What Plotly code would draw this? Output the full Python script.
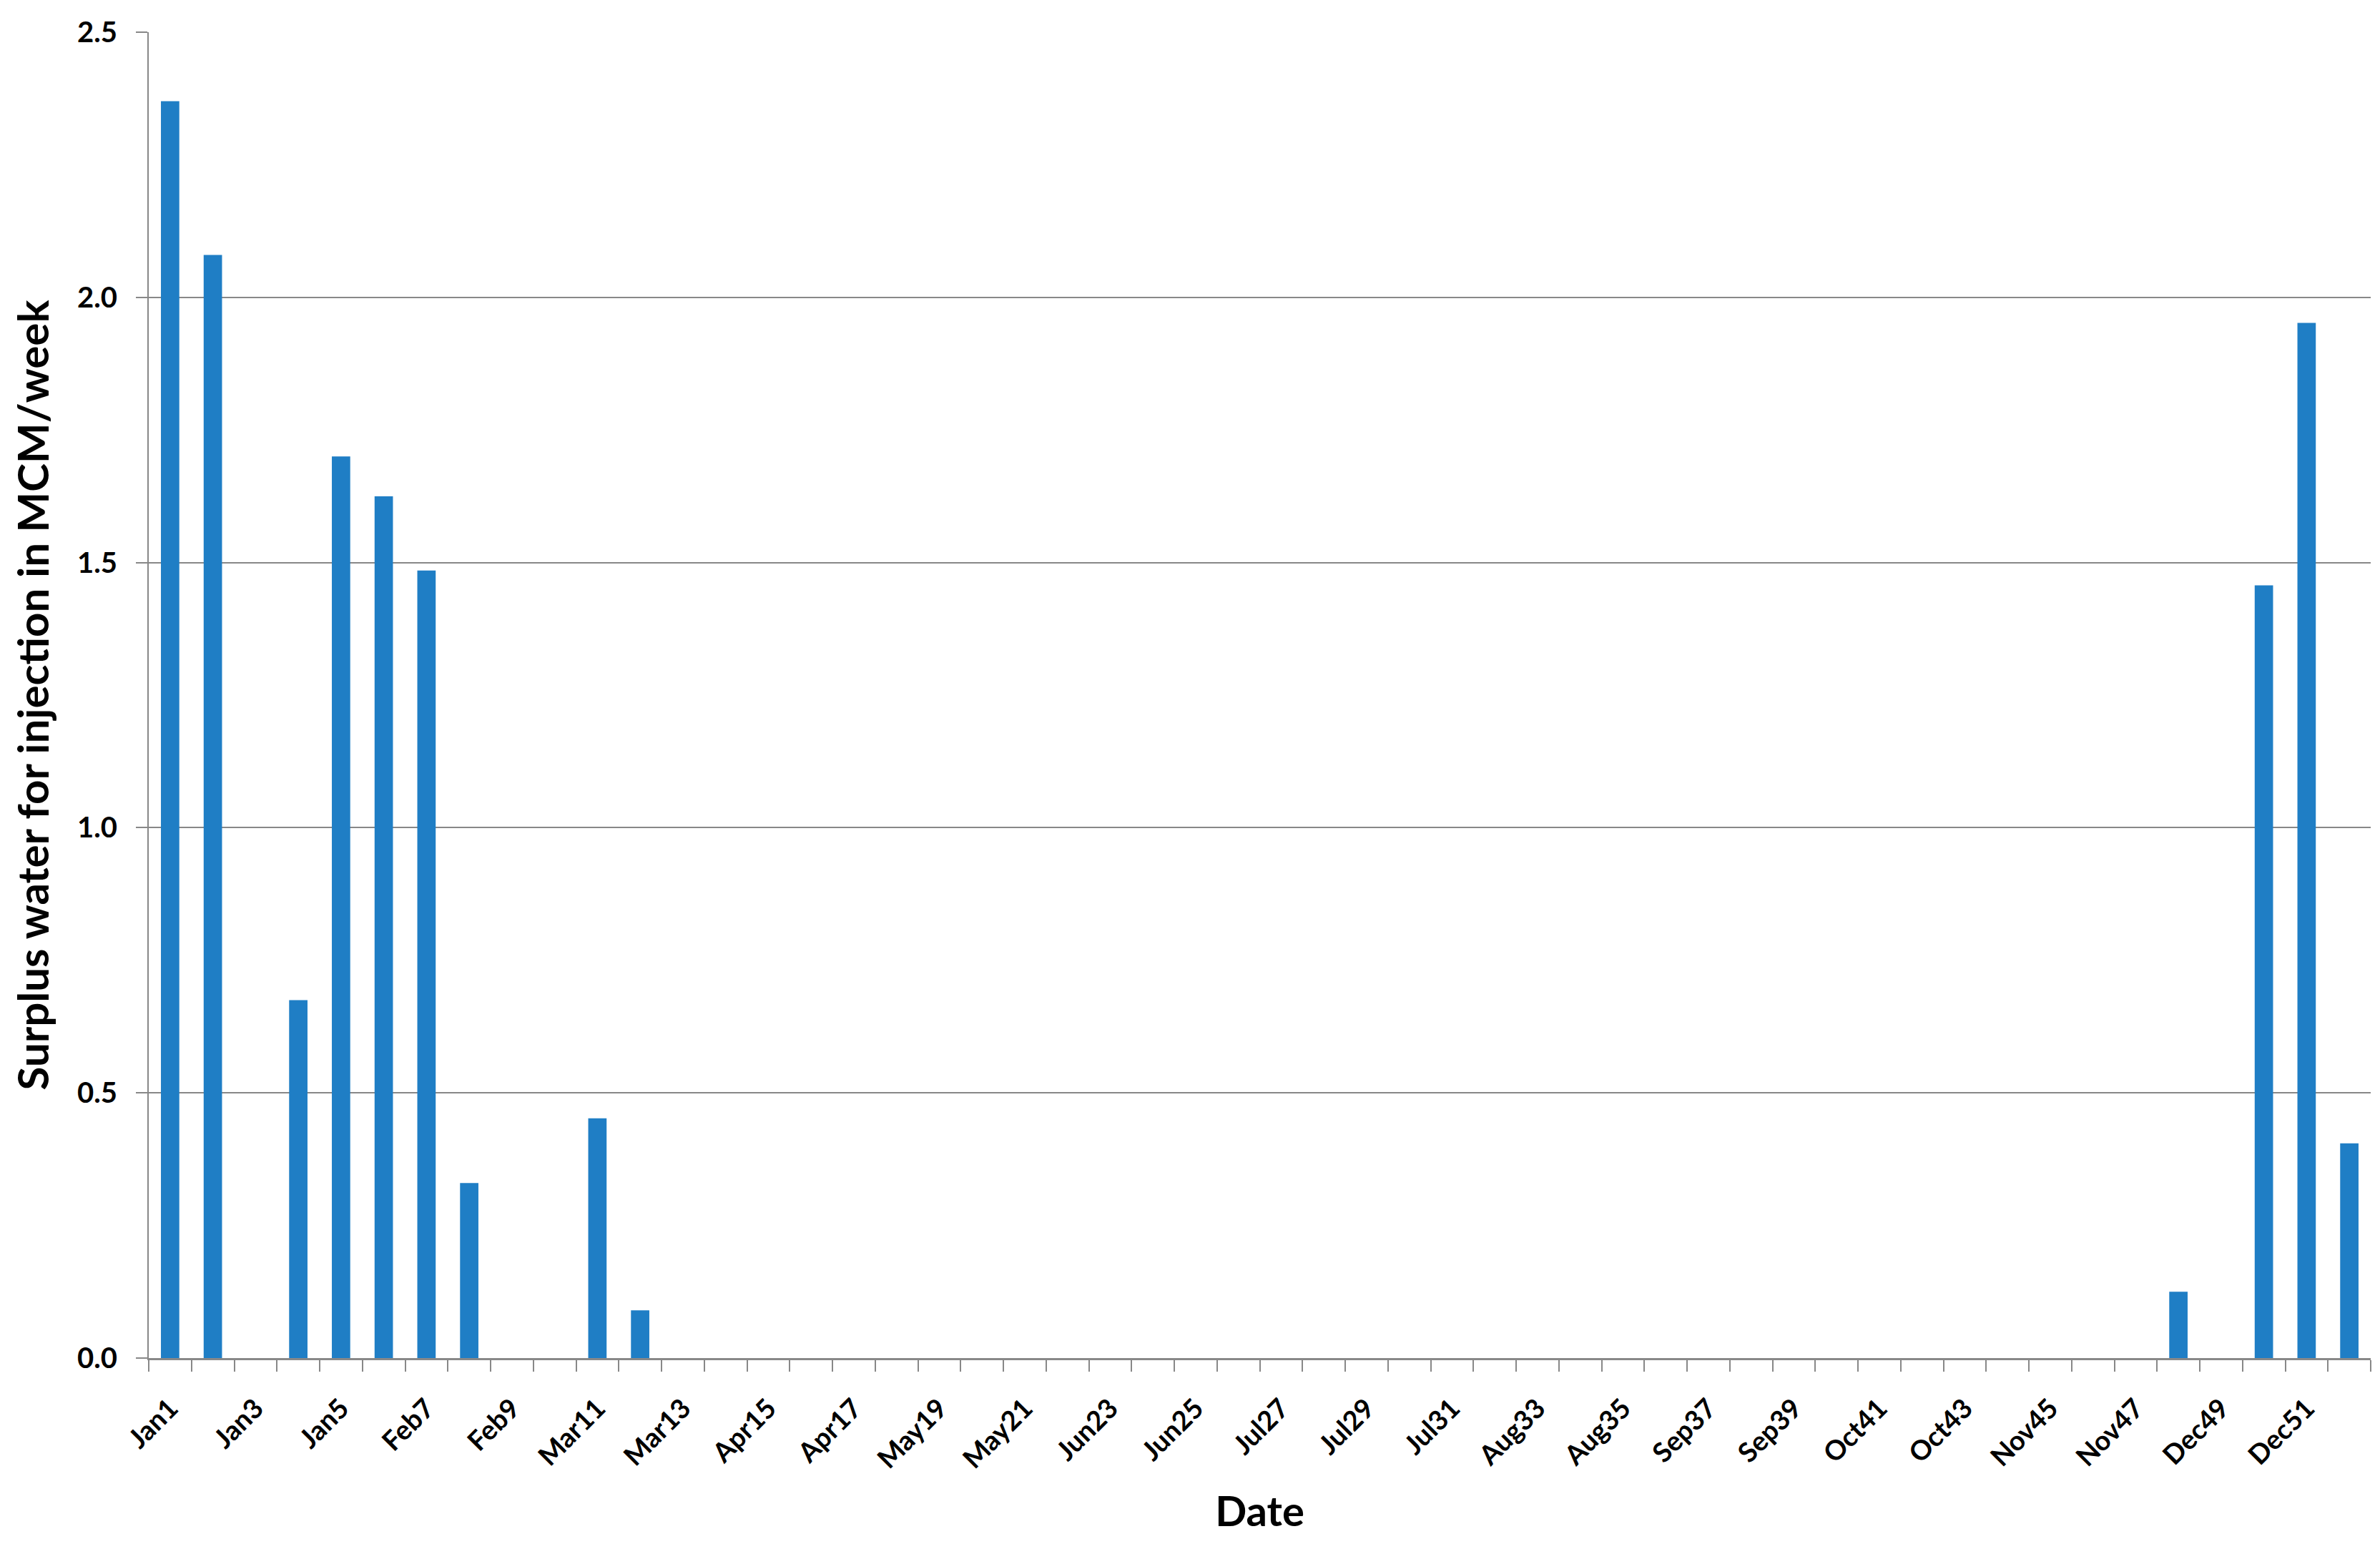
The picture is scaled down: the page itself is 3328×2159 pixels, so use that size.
import plotly.graph_objects as go

months = ["Jan","Jan","Jan","Jan","Jan","Feb","Feb","Feb","Feb","Mar","Mar","Mar","Mar",
          "Apr","Apr","Apr","Apr","May","May","May","May","Jun","Jun","Jun","Jun","Jun",
          "Jul","Jul","Jul","Jul","Jul","Aug","Aug","Aug","Aug","Sep","Sep","Sep","Sep",
          "Oct","Oct","Oct","Oct","Nov","Nov","Nov","Nov","Dec","Dec","Dec","Dec","Dec"]
weeks = list(range(1, 53))
categories = [f"{m}{w}" for m, w in zip(months, weeks)]

surplus = [2.37, 2.08, 0.0, 0.675, 1.70, 1.625, 1.485, 0.33, 0.0, 0.0, 0.452, 0.09,
           0.0, 0.0, 0.0, 0.0, 0.0, 0.0, 0.0, 0.0, 0.0, 0.0, 0.0, 0.0, 0.0, 0.0,
           0.0, 0.0, 0.0, 0.0, 0.0, 0.0, 0.0, 0.0, 0.0, 0.0, 0.0, 0.0, 0.0, 0.0,
           0.0, 0.0, 0.0, 0.0, 0.0, 0.0, 0.0, 0.125, 0.0, 1.457, 1.952, 0.405]

tick_text = [c if i % 2 == 0 else "" for i, c in enumerate(categories)]
y_ticks = [0.0, 0.5, 1.0, 1.5, 2.0, 2.5]

font_family = "Lato, 'Open Sans', sans-serif"

fig = go.Figure(go.Bar(
    x=categories, y=surplus,
    marker=dict(color="#1F7EC5", line=dict(width=0)),
    width=0.43,
))

fig.update_layout(
    width=3328, height=2159,
    paper_bgcolor="white", plot_bgcolor="white",
    margin=dict(l=200, r=21, t=32, b=268),
    showlegend=False,
    font=dict(family=font_family, color="black"),
)

fig.update_xaxes(
    type="category",
    tickmode="array", tickvals=categories, ticktext=tick_text,
    tickson="boundaries",
    ticks="outside", ticklen=16, tickwidth=2, tickcolor="#888888",
    tickangle=-45,
    ticklabelstandoff=30,
    tickfont=dict(size=38, family=font_family, weight="bold"),
    showline=True, linecolor="#888888", linewidth=3,
    showgrid=False,
    title=dict(text="Date", font=dict(size=58, family=font_family, weight="bold"), standoff=34),
    range=[-0.5, 51.5],
)

fig.update_yaxes(
    range=[0, 2.5],
    tickmode="array", tickvals=y_ticks,
    tickformat=".1f",
    ticks="outside", ticklen=16, tickwidth=2, tickcolor="#888888",
    ticklabelstandoff=18,
    tickfont=dict(size=40, family=font_family, weight="bold"),
    showline=True, linecolor="#888888", linewidth=2,
    showgrid=True, gridcolor="#888888", gridwidth=2,
    zeroline=False,
    title=dict(text="Surplus water for injection in MCM/week",
               font=dict(size=60, family=font_family, weight="bold"), standoff=20),
)

fig.write_html("out.html")
